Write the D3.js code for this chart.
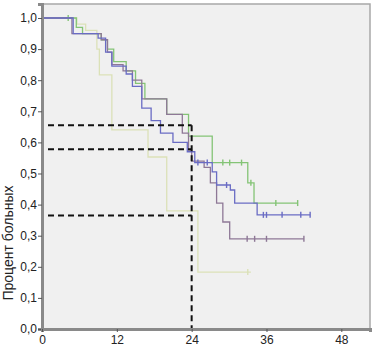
<!DOCTYPE html>
<html>
<head>
<meta charset="utf-8">
<script src="https://cdn.jsdelivr.net/npm/d3@7"></script>
<style>
  body { margin: 0; background: #fff; }
  text { font-family: "Liberation Sans", Arial, sans-serif; }
</style>
</head>
<body>
<svg id="chart" width="374" height="349"></svg>
<script>
const yTicks = [0, 0.1, 0.2, 0.3, 0.4, 0.5, 0.6, 0.7, 0.8, 0.9, 1.0];
const xTicks = [0, 12, 24, 36, 48];

// step points [month, survival], last entry = end of follow-up
const greenSteps = [[0, 1], [5.5, 0.97], [6.5, 0.95], [9.5, 0.93], [10.5, 0.9], [11.5, 0.86], [13.5, 0.83], [15, 0.79], [16.5, 0.74], [20, 0.69], [23.5, 0.62], [27.3, 0.535], [33, 0.47], [34, 0.405], [41, 0.405]];
const greenCensor = [[4.2, 1], [29, 0.535], [30.1, 0.535], [32, 0.535], [33.5, 0.47], [37.5, 0.405], [41, 0.405]];

const blueSteps = [[0, 1], [5, 0.95], [9, 0.935], [10.2, 0.89], [11.2, 0.845], [13.5, 0.82], [14.5, 0.78], [16, 0.71], [17.5, 0.67], [19, 0.63], [21, 0.6], [23.3, 0.57], [24.5, 0.535], [27.3, 0.505], [28, 0.463], [30.2, 0.447], [30.9, 0.405], [34.5, 0.367], [43, 0.367]];
const blueCensor = [[25, 0.535], [26.5, 0.535], [29.6, 0.463], [35.5, 0.367], [36, 0.367], [38.5, 0.367], [41.5, 0.367], [43, 0.367]];

const purpleSteps = [[0, 1], [4.8, 0.95], [9.5, 0.93], [10.5, 0.89], [11.2, 0.85], [13, 0.83], [14.5, 0.8], [16, 0.74], [20, 0.69], [22.5, 0.63], [23.5, 0.575], [24, 0.54], [26, 0.52], [27, 0.47], [28, 0.405], [29, 0.344], [30.1, 0.29], [42, 0.29]];
const purpleCensor = [[32.9, 0.29], [34.1, 0.29], [36, 0.29], [42, 0.29]];

const paleSteps = [[0, 1], [5.6, 0.98], [7, 0.96], [8.8, 0.9], [9.2, 0.817], [11.2, 0.64], [17, 0.553], [20, 0.38], [25, 0.183], [33.5, 0.183]];
const paleCensor = [[33, 0.183]];

// reference lines: survival level at 24 months
const refLevels = [0.655, 0.578, 0.365];
const refMonth = 24;

const series = [
  { steps: paleSteps, censor: paleCensor, color: "#dbe1b8" },
  { steps: greenSteps, censor: greenCensor, color: "#84c476" },
  { steps: purpleSteps, censor: purpleCensor, color: "#8e7896" },
  { steps: blueSteps, censor: blueCensor, color: "#6a6cc4" }
];

const svg = d3.select("#chart");
const margin = { left: 42, right: 4, top: 4, bottom: 20 };
const W = 374, H = 349;

const x = d3.scaleLinear().domain([0, 52.6]).range([margin.left, W - margin.right]);
const y = d3.scaleLinear().domain([0, 1.045]).range([H - margin.bottom, margin.top]);

svg.append("rect")
  .attr("x", margin.left).attr("y", margin.top)
  .attr("width", W - margin.right - margin.left)
  .attr("height", H - margin.bottom - margin.top)
  .attr("fill", "#f0f0f0")
  .attr("stroke", "#a8a8a8")
  .attr("stroke-width", 1.5);

const line = d3.line()
  .x(d => x(d[0]))
  .y(d => y(d[1]))
  .curve(d3.curveStepAfter);

series.forEach(s => {
  svg.append("path")
    .datum(s.steps)
    .attr("fill", "none")
    .attr("stroke", s.color)
    .attr("stroke-width", 1.3)
    .attr("d", line);

  svg.selectAll(null)
    .data(s.censor)
    .join("line")
    .attr("x1", d => x(d[0])).attr("x2", d => x(d[0]))
    .attr("y1", d => y(d[1]) - 3).attr("y2", d => y(d[1]) + 3)
    .attr("stroke", s.color)
    .attr("stroke-width", 1.4);
});

// dashed reference lines
refLevels.forEach(v => {
  svg.append("line")
    .attr("x1", x(0) + 6).attr("x2", x(refMonth))
    .attr("y1", y(v)).attr("y2", y(v))
    .attr("stroke", "#111")
    .attr("stroke-width", 2)
    .attr("stroke-dasharray", "6,4");
});
svg.append("line")
  .attr("x1", x(refMonth)).attr("x2", x(refMonth))
  .attr("y1", y(d3.max(refLevels))).attr("y2", y(0))
  .attr("stroke", "#111")
  .attr("stroke-width", 2)
  .attr("stroke-dasharray", "6,4");

// axes
const fmt = d3.format(".1f");
const yAxis = svg.append("g")
  .attr("transform", `translate(${margin.left},0)`)
  .call(d3.axisLeft(y).tickValues(yTicks).tickSize(4).tickFormat(d => fmt(d).replace(".", ",")));
const xAxis = svg.append("g")
  .attr("transform", `translate(0,${H - margin.bottom})`)
  .call(d3.axisBottom(x).tickValues(xTicks).tickSize(3));

[yAxis, xAxis].forEach(a => {
  a.select(".domain").attr("stroke", "#8a8a8a").attr("stroke-width", 3);
  a.selectAll(".tick line").attr("stroke", "#555");
  a.selectAll(".tick text").attr("fill", "#222").style("font-size", "12px");
});
yAxis.selectAll(".tick text").attr("x", -5);
xAxis.selectAll(".tick text").attr("y", 6);

svg.append("text")
  .attr("transform", "translate(13,243) rotate(-90)")
  .attr("text-anchor", "middle")
  .attr("fill", "#222")
  .style("font-size", "14px")
  .text("Процент больных");
</script>
</body>
</html>
